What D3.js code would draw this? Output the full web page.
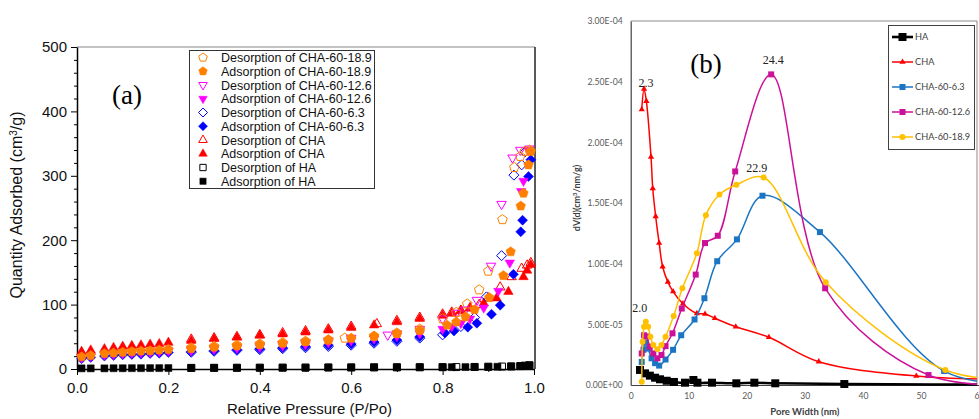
<!DOCTYPE html>
<html>
<head>
<meta charset="utf-8">
<script src="https://cdn.jsdelivr.net/npm/d3@7"></script>
<style>
  html, body { margin: 0; padding: 0; background: #fff; }
  svg { display: block; }
</style>
</head>
<body>
<svg id="fig" width="979" height="419"></svg>
<script>
// ---------- panel (a): N2 isotherms, [P/Po, quantity adsorbed (cm3/g)] ----------
const haAds = [[0.01,1],[0.03,1],[0.06,1],[0.08,1.2],[0.10,1.2],[0.12,1.3],[0.14,1.3],[0.16,1.4],[0.18,1.4],[0.20,1.5],[0.25,1.6],[0.30,1.7],[0.35,1.8],[0.40,1.9],[0.45,2],[0.50,2.1],[0.55,2.3],[0.60,2.4],[0.65,2.5],[0.70,2.6],[0.75,2.7],[0.80,2.8],[0.82,2.9],[0.85,3],[0.87,3.1],[0.90,3.3],[0.92,3.5],[0.95,3.9],[0.97,4.4],[0.98,4.9],[0.99,5.6]];
const haDes = [[0.99,5.8],[0.98,5.1],[0.97,4.6],[0.95,4.1],[0.93,3.8],[0.90,3.5],[0.87,3.2],[0.83,3],[0.80,2.9],[0.75,2.8],[0.70,2.7],[0.65,2.6],[0.60,2.5],[0.55,2.4],[0.50,2.2],[0.45,2.1],[0.40,2],[0.35,1.9],[0.30,1.8],[0.25,1.7]];
const chaAds = [[0.01,27],[0.03,29],[0.06,31],[0.08,33],[0.10,35],[0.12,36],[0.14,37],[0.16,38],[0.18,39],[0.20,41],[0.25,44],[0.30,47],[0.35,49],[0.40,52],[0.45,54],[0.50,57],[0.55,60],[0.60,64],[0.65,68],[0.70,73],[0.75,78],[0.80,83],[0.82,86],[0.84,90],[0.86,94],[0.89,102],[0.918,110],[0.944,120],[0.977,143],[0.985,153],[0.993,162]];
const chaDes = [[0.993,165],[0.985,161],[0.973,156],[0.951,143],[0.926,127],[0.90,110],[0.88,100],[0.86,95],[0.84,91],[0.82,88],[0.80,85],[0.75,80],[0.70,75],[0.656,70],[0.60,66],[0.55,62],[0.50,59],[0.45,56],[0.40,53],[0.35,50],[0.30,48],[0.25,46]];
const ads63 = [[0.01,16],[0.03,18],[0.06,20],[0.08,21],[0.10,22],[0.12,22.5],[0.14,23],[0.16,24],[0.18,24.5],[0.20,25.5],[0.25,27],[0.30,28.5],[0.35,30],[0.40,31.5],[0.45,33],[0.50,35],[0.55,37],[0.60,39],[0.65,42],[0.70,45],[0.75,50],[0.805,56],[0.825,59],[0.855,65],[0.875,71],[0.907,85],[0.926,99],[0.955,147],[0.971,213],[0.975,231],[0.988,299],[0.993,325]];
const des63 = [[0.98,337],[0.973,317],[0.956,301],[0.929,176],[0.896,112],[0.87,80],[0.84,66],[0.80,53],[0.75,48],[0.70,43],[0.65,40],[0.60,37],[0.55,35],[0.50,33],[0.45,31.5],[0.40,30],[0.35,29],[0.30,27.5],[0.25,26]];
const ads126 = [[0.01,18],[0.03,20],[0.06,22],[0.08,23],[0.10,24],[0.12,25],[0.14,25.5],[0.16,26],[0.18,27],[0.20,28],[0.25,29],[0.30,31],[0.35,32.5],[0.40,34],[0.45,36],[0.50,38],[0.55,41],[0.60,44],[0.65,47],[0.70,51],[0.75,55],[0.80,62],[0.82,66],[0.84,71],[0.86,78],[0.89,95],[0.922,121],[0.947,165],[0.972,276],[0.977,292],[0.988,340]];
const des126 = [[0.99,342],[0.97,340],[0.953,328],[0.929,256],[0.906,160],[0.875,107],[0.85,92],[0.83,87],[0.80,78],[0.75,62],[0.70,55],[0.68,53],[0.60,48],[0.55,44],[0.50,41],[0.45,38],[0.40,36],[0.35,34],[0.30,32],[0.25,30]];
const ads189 = [[0.01,19],[0.03,21],[0.06,24],[0.08,25],[0.10,26],[0.12,27],[0.14,28],[0.16,28.5],[0.18,29.5],[0.20,30.5],[0.25,32],[0.30,34],[0.35,36],[0.40,38],[0.45,40],[0.50,42.5],[0.55,45.5],[0.60,48],[0.65,51],[0.70,55],[0.75,60],[0.81,68],[0.83,73],[0.85,81],[0.87,92],[0.902,111],[0.933,145],[0.949,182],[0.971,253],[0.977,273],[0.988,317],[0.993,338]];
const des189 = [[0.99,340],[0.98,338],[0.97,330],[0.957,313],[0.931,232],[0.90,152],[0.88,123],[0.854,101],[0.83,88],[0.80,78],[0.75,62],[0.70,56],[0.65,51],[0.586,48],[0.55,45],[0.50,43],[0.45,41],[0.40,39],[0.35,37],[0.30,35],[0.25,33]];

const xTicksA = [0, 0.2, 0.4, 0.6, 0.8, 1.0];
const xMinorA = [0.1, 0.3, 0.5, 0.7, 0.9];
const yTicksA = [0, 100, 200, 300, 400, 500];
const yMinorA = d3.range(0, 501, 20).filter(v => v % 100 !== 0);

// ---------- panel (b): pore size distribution, [pore width (nm), dV(d)] ----------
const psdHA = [[1.6,1.24e-5],[2.46,0.96e-5],[3.3,0.77e-5],[4.2,0.6e-5],[5.05,0.47e-5],[6.2,0.35e-5],[7.45,0.25e-5],[9.35,0.19e-5],[10.8,0.41e-5],[11.5,0.19e-5],[14.0,0.19e-5],[18.2,0.14e-5],[21.3,0.19e-5],[24.9,0.14e-5],[36.8,0.08e-5],[70,0.02e-5]];
const psdCHA = [[1.9,22.7e-5],[2.3,24.4e-5],[2.7,23.4e-5],[3.5,18.8e-5],[3.8,16.2e-5],[4.3,13.9e-5],[4.9,11.7e-5],[5.5,9.75e-5],[6.4,8.5e-5],[7.3,7.7e-5],[9.0,6.7e-5],[11.4,5.9e-5],[12.8,5.85e-5],[14.5,5.5e-5],[18.1,4.8e-5],[23.8,3.93e-5],[32.4,1.92e-5],[49.2,0.74e-5],[70,0.4e-5]];
const psd63 = [[1.9,1.9e-5],[2.2,2.9e-5],[2.6,3.5e-5],[3.0,3.0e-5],[3.6,2.2e-5],[4.2,1.8e-5],[4.9,1.6e-5],[6.0,2.1e-5],[7.3,2.9e-5],[8.7,4.1e-5],[11.0,5.4e-5],[12.7,7.15e-5],[14.9,10.2e-5],[18.3,12.0e-5],[22.7,15.6e-5],[32.6,12.6e-5],[54.0,1.15e-5],[70,0]];
const psd126 = [[1.9,2.6e-5],[2.3,4.1e-5],[2.7,4.0e-5],[3.3,3.16e-5],[3.9,2.6e-5],[4.6,2.2e-5],[5.3,2.47e-5],[6.0,3.2e-5],[7.2,4.26e-5],[8.8,6.3e-5],[11.2,9.1e-5],[12.8,11.7e-5],[15.0,12.3e-5],[18.0,17.6e-5],[24.2,25.6e-5],[33.5,7.97e-5],[51.3,0.82e-5],[70,0]];
const psd189 = [[1.9,0.27e-5],[2.05,3.57e-5],[2.3,4.8e-5],[2.6,5.22e-5],[3.0,4.8e-5],[3.4,3.98e-5],[3.9,3.3e-5],[4.6,2.94e-5],[5.3,3.3e-5],[6.0,3.98e-5],[7.4,5.69e-5],[8.9,7.97e-5],[11.4,10.86e-5],[12.95,14.0e-5],[15.3,15.7e-5],[18.2,16.5e-5],[22.9,17.1e-5],[33.6,8.47e-5],[54.2,1.24e-5],[70,0.3e-5]];

const xTicksB = [0, 10, 20, 30, 40, 50, 60];
const yTicksB = [0, 5e-5, 1e-4, 1.5e-4, 2e-4, 2.5e-4, 3e-4];
const yTickLabelsB = ['0.00E+00', '5.00E-05', '1.00E-04', '1.50E-04', '2.00E-04', '2.50E-04', '3.00E-04'];

// marker shapes
function markerPath(shape, r) {
    const poly = angles => 'M' + angles.map(a => {
        const t = a * Math.PI / 180;
        return (r * Math.cos(t)).toFixed(2) + ',' + (r * Math.sin(t)).toFixed(2);
    }).join('L') + 'Z';
    if (shape === 'pentagon') return poly([-90, -18, 54, 126, 198]);
    if (shape === 'triUp') return poly([-90, 30, 150]);
    if (shape === 'triDown') return poly([90, 210, 330]);
    if (shape === 'diamond') return poly([-90, 0, 90, 180]);
    if (shape === 'square') return `M${-r},${-r}H${r}V${r}H${-r}Z`;
    return d3.symbol(d3.symbolCircle, Math.PI * r * r)();
}

const svg = d3.select('#fig');
const fontA = "'Liberation Sans', Arial, sans-serif";
const fontB = "Lato, 'Liberation Sans', sans-serif";
const serif = "'Liberation Serif', 'Times New Roman', serif";

// ================= panel (a) =================
const xA = d3.scaleLinear().domain([0, 1]).range([77, 534]);
const yA = d3.scaleLinear().domain([0, 500]).range([369, 47]);

const seriesA = [
    { name: 'Desorption of CHA-60-18.9', data: des189, color: '#FF8000', shape: 'pentagon', r: 5, filled: false },
    { name: 'Adsorption of CHA-60-18.9', data: ads189, color: '#FF8000', shape: 'pentagon', r: 5, filled: true },
    { name: 'Desorption of CHA-60-12.6', data: des126, color: '#FF00FF', shape: 'triDown', r: 5.5, filled: false },
    { name: 'Adsorption of CHA-60-12.6', data: ads126, color: '#FF00FF', shape: 'triDown', r: 5.5, filled: true },
    { name: 'Desorption of CHA-60-6.3', data: des63, color: '#0000FF', shape: 'diamond', r: 5, filled: false },
    { name: 'Adsorption of CHA-60-6.3', data: ads63, color: '#0000FF', shape: 'diamond', r: 5, filled: true },
    { name: 'Desorption of CHA', data: chaDes, color: '#FF0000', shape: 'triUp', r: 5.5, filled: false },
    { name: 'Adsorption of CHA', data: chaAds, color: '#FF0000', shape: 'triUp', r: 5.5, filled: true },
    { name: 'Desorption of HA', data: haDes, color: '#000000', shape: 'square', r: 3.5, filled: false },
    { name: 'Adsorption of HA', data: haAds, color: '#000000', shape: 'square', r: 3.5, filled: true }
];

// frame
svg.append('line').attr('x1', xA(0)).attr('x2', 535).attr('y1', yA(500)).attr('y2', yA(500))
    .attr('stroke', '#888').attr('stroke-width', 1.2);
svg.append('line').attr('x1', 535).attr('x2', 535).attr('y1', yA(500)).attr('y2', yA(0))
    .attr('stroke', '#222').attr('stroke-width', 1.5);

// minor ticks
svg.append('g').attr('transform', `translate(0,${yA(0)})`)
    .call(d3.axisBottom(xA).tickValues(xMinorA).tickSize(3).tickFormat(''))
    .call(g => g.select('.domain').remove());
svg.append('g').attr('transform', `translate(${xA(0)},0)`)
    .call(d3.axisLeft(yA).tickValues(yMinorA).tickSize(3).tickFormat(''))
    .call(g => g.select('.domain').remove());

const xAxisA = svg.append('g').attr('transform', `translate(0,${yA(0)})`)
    .call(d3.axisBottom(xA).tickValues(xTicksA).tickSize(6).tickSizeOuter(0).tickPadding(7).tickFormat(d3.format('.1f')));
const yAxisA = svg.append('g').attr('transform', `translate(${xA(0)},0)`)
    .call(d3.axisLeft(yA).tickValues(yTicksA).tickSize(6).tickSizeOuter(0).tickPadding(4));
[xAxisA, yAxisA].forEach(g => {
    g.selectAll('text').attr('font-family', fontA).attr('font-size', 15).attr('fill', '#111');
    g.select('.domain').attr('stroke', '#000').attr('stroke-width', 1.5);
});
svg.selectAll('.tick line').attr('stroke', '#000');

svg.append('text')
    .attr('transform', `translate(22,${(yA(0) + yA(500)) / 2 - 3}) rotate(-90)`)
    .attr('text-anchor', 'middle').attr('font-family', fontA).attr('font-size', 16).attr('fill', '#111')
    .html('Quantity Adsorbed (cm<tspan dy="-5" font-size="10">3</tspan><tspan dy="5">/g)</tspan>');
svg.append('text')
    .attr('x', (xA(0) + xA(1)) / 2 + 4).attr('y', 414)
    .attr('text-anchor', 'middle').attr('font-family', fontA).attr('font-size', 15).attr('fill', '#111')
    .text('Relative Pressure (P/Po)');
svg.append('text').attr('x', 127).attr('y', 104).attr('text-anchor', 'middle')
    .attr('font-family', serif).attr('font-size', 27).text('(a)');

// points (HA first, CHA-60-18.9 on top)
const plotA = svg.append('g');
seriesA.slice().reverse().forEach(s => {
    plotA.append('g').selectAll('path')
        .data(s.data)
        .join('path')
        .attr('transform', d => `translate(${xA(d[0])},${yA(d[1])})`)
        .attr('d', markerPath(s.shape, s.r))
        .attr('fill', s.filled ? s.color : 'none')
        .attr('stroke', s.color)
        .attr('stroke-width', s.filled ? 0.5 : 1);
});

// legend (a)
const legA = svg.append('g');
legA.append('rect').attr('x', 189.5).attr('y', 50.5).attr('width', 185).attr('height', 138)
    .attr('fill', '#fff').attr('stroke', '#333');
seriesA.forEach((s, i) => {
    const yy = 57.5 + i * 13.75;
    legA.append('path').attr('transform', `translate(203,${yy})`)
        .attr('d', markerPath(s.shape, s.r * 0.9))
        .attr('fill', s.filled ? s.color : 'none').attr('stroke', s.color)
        .attr('stroke-width', s.filled ? 0.5 : 1);
    legA.append('text').attr('x', 221).attr('y', yy + 4.5)
        .attr('font-family', fontA).attr('font-size', 12.5).attr('fill', '#111').text(s.name);
});

// ================= panel (b) =================
const xB = d3.scaleLinear().domain([0, 60]).range([630.7, 979]);
const yB = d3.scaleLinear().domain([0, 3e-4]).range([385, 21]);

const seriesB = [
    { name: 'HA', data: psdHA, color: '#000000', shape: 'square', r: 4, lw: 2.6 },
    { name: 'CHA', data: psdCHA, color: '#FF0000', shape: 'triUp', r: 3.6, lw: 1.5 },
    { name: 'CHA-60-6.3', data: psd63, color: '#1B75C3', shape: 'square', r: 3, lw: 1.5 },
    { name: 'CHA-60-12.6', data: psd126, color: '#CC1199', shape: 'square', r: 3, lw: 1.5 },
    { name: 'CHA-60-18.9', data: psd189, color: '#FFC000', shape: 'circle', r: 3, lw: 1.5 }
];

svg.append('defs').append('clipPath').attr('id', 'clipB')
    .append('rect').attr('x', 626).attr('y', 15).attr('width', 351).attr('height', 380);

// frame
svg.append('path').attr('d', `M${xB(0)},${yB(3e-4)}H977V${yB(0)}`)
    .attr('fill', 'none').attr('stroke', '#8a8a8a').attr('stroke-width', 1);

const xAxisB = svg.append('g').attr('transform', `translate(0,${yB(0)})`)
    .call(d3.axisBottom(xB).tickValues(xTicksB).tickSize(0).tickPadding(8));
const yAxisB = svg.append('g').attr('transform', `translate(${xB(0)},0)`)
    .call(d3.axisLeft(yB).tickValues(yTicksB).tickSize(0).tickPadding(8)
        .tickFormat((d, i) => yTickLabelsB[i]));
[xAxisB, yAxisB].forEach(g => {
    g.selectAll('text').attr('font-family', fontB).attr('font-size', 8.6).attr('fill', '#595959');
    g.select('.domain').attr('stroke', '#404040').attr('stroke-width', 1.2);
});

svg.append('text')
    .attr('transform', `translate(580,198) rotate(-90)`)
    .attr('text-anchor', 'middle').attr('font-family', fontB).attr('font-size', 9).attr('font-weight', 700)
    .attr('fill', '#404040')
    .html('dV(d)(cm<tspan dy="-3" font-size="6">3</tspan><tspan dy="3">/nm/g)</tspan>');
svg.append('text').attr('x', (xB(0) + 977) / 2 + 1).attr('y', 415)
    .attr('text-anchor', 'middle').attr('font-family', fontB).attr('font-size', 9.5).attr('font-weight', 700)
    .attr('fill', '#404040').text('Pore Width (nm)');
svg.append('text').attr('x', 706).attr('y', 73).attr('text-anchor', 'middle')
    .attr('font-family', serif).attr('font-size', 27).text('(b)');

const line = d3.line().x(d => xB(d[0])).y(d => yB(d[1])).curve(d3.curveCatmullRom.alpha(0.5));
const plotB = svg.append('g').attr('clip-path', 'url(#clipB)');
seriesB.forEach(s => {
    plotB.append('path').datum(s.data).attr('d', line)
        .attr('fill', 'none').attr('stroke', s.color).attr('stroke-width', s.lw);
    plotB.append('g').selectAll('path').data(s.data).join('path')
        .attr('transform', d => `translate(${xB(d[0])},${yB(d[1])})`)
        .attr('d', markerPath(s.shape, s.r)).attr('fill', s.color);
});

// peak labels, anchored to the peak points
const peakLabels = [
    { text: '2.3', pt: psdCHA[1], dx: 2, dy: -2 },
    { text: '2.0', pt: psd189[3], dx: -6, dy: -10 },
    { text: '24.4', pt: psd126[14], dx: 2, dy: -10 },
    { text: '22.9', pt: psd189[16], dx: -7, dy: -6 }
];
svg.append('g').selectAll('text').data(peakLabels).join('text')
    .attr('x', d => xB(d.pt[0]) + d.dx).attr('y', d => yB(d.pt[1]) + d.dy)
    .attr('text-anchor', 'middle').attr('font-family', serif).attr('font-size', 12)
    .attr('fill', '#222').text(d => d.text);

// legend (b)
const legB = svg.append('g');
legB.append('rect').attr('x', 888.5).attr('y', 25.5).attr('width', 86).attr('height', 124)
    .attr('fill', '#fff').attr('stroke', '#404040');
seriesB.forEach((s, i) => {
    const yy = 37 + i * 25;
    legB.append('line').attr('x1', 892).attr('x2', 913).attr('y1', yy).attr('y2', yy)
        .attr('stroke', s.color).attr('stroke-width', s.lw);
    legB.append('path').attr('transform', `translate(902.5,${yy})`)
        .attr('d', markerPath(s.shape, s.r)).attr('fill', s.color);
    legB.append('text').attr('x', 915).attr('y', yy + 3.2)
        .attr('font-family', fontB).attr('font-size', 9.2).attr('fill', '#404040').text(s.name);
});
</script>
</body>
</html>
